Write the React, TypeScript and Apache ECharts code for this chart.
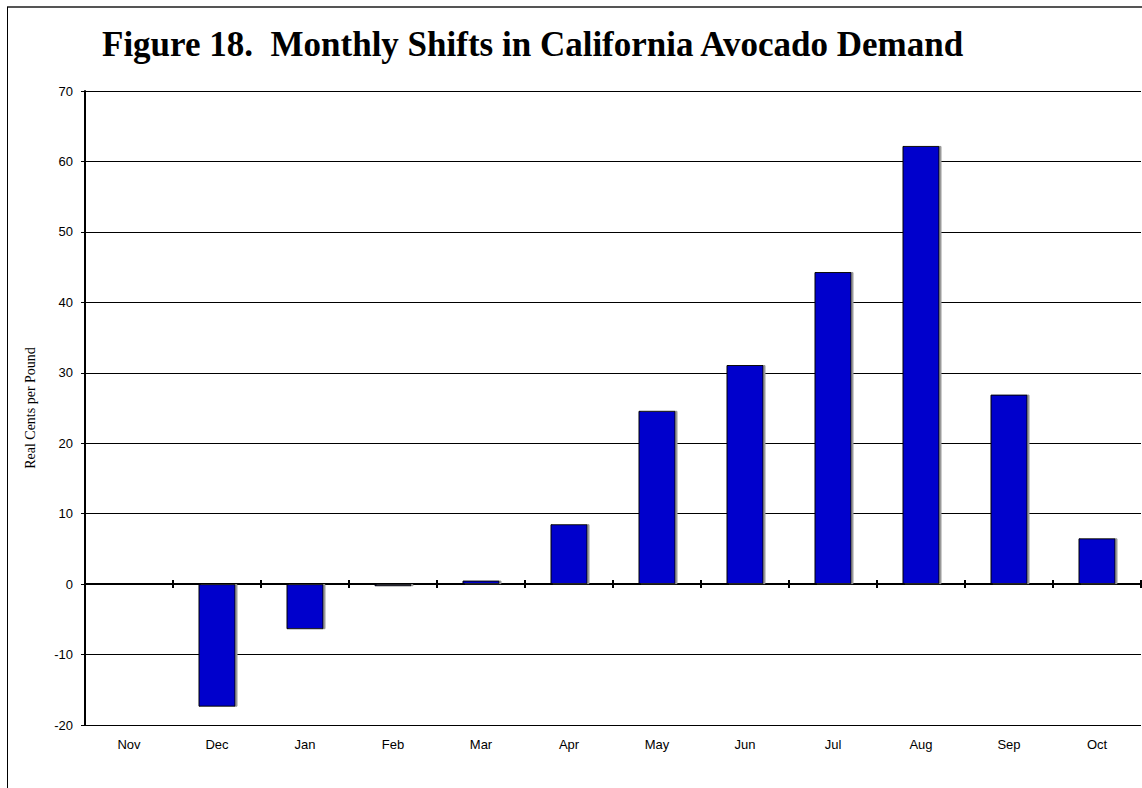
import React, { useEffect, useRef } from "react";
import * as echarts from "echarts";

const months = ["Nov", "Dec", "Jan", "Feb", "Mar", "Apr", "May", "Jun", "Jul", "Aug", "Sep", "Oct"];
const shifts = [0, -17.4, -6.4, -0.3, 0.5, 8.5, 24.6, 31.1, 44.3, 62.2, 26.9, 6.5];
const yTicks = { min: -20, max: 70, interval: 10 };
const titleText = "Figure 18.  Monthly Shifts in California Avocado Demand";
const yName = "Real Cents per Pound";

export default function App() {
  const ref = useRef<HTMLDivElement>(null);
  useEffect(() => {
    const chart = echarts.init(ref.current!, null, { renderer: "svg" });
    chart.setOption({
      animation: false,
      backgroundColor: "#ffffff",
      title: {
        text: titleText,
        left: 97,
        top: 22,
        textStyle: {
          fontFamily: "Liberation Serif",
          fontWeight: "bold",
          fontSize: 35,
          color: "#000",
        },
      },
      graphic: [
        { type: "line", shape: { x1: 7, y1: 7, x2: 1142, y2: 7 }, style: { stroke: "#555", lineWidth: 2 } },
        { type: "line", shape: { x1: 7.5, y1: 7, x2: 7.5, y2: 788 }, style: { stroke: "#000", lineWidth: 1 } },
      ],
      grid: { left: 85, top: 91, right: 1, bottom: 63, containLabel: false, outerBoundsMode: "none" },
      xAxis: [
        {
          type: "category",
          data: months,
          position: "bottom",
          axisLine: { onZero: true, onZeroAxisIndex: 0, lineStyle: { color: "#000", width: 2 } },
          axisTick: { show: true, length: 4, lineStyle: { color: "#000", width: 2 } },
          axisLabel: {
            margin: 13,
            fontFamily: "Liberation Sans",
            fontSize: 13,
            color: "#000",
          },
          splitLine: { show: false },
        },
        {
          type: "category",
          data: months,
          position: "top",
          axisLine: { onZero: true, onZeroAxisIndex: 1, lineStyle: { color: "#000", width: 2 } },
          axisTick: { show: true, length: 4, lineStyle: { color: "#000", width: 2 } },
          axisLabel: { show: false },
          splitLine: { show: false },
        },
      ],
      yAxis: [
        {
          type: "value",
          min: yTicks.min,
          max: yTicks.max,
          interval: yTicks.interval,
          name: yName,
          nameLocation: "middle",
          nameGap: 48,
          nameTextStyle: { fontFamily: "Liberation Serif", fontSize: 14, color: "#000" },
          axisLine: { show: true, lineStyle: { color: "#000", width: 2 } },
          axisTick: { show: true, length: 4, lineStyle: { color: "#000" } },
          axisLabel: { fontFamily: "Liberation Sans", fontSize: 13, color: "#000", margin: 12 },
          splitLine: { show: true, lineStyle: { color: "#000", width: 1 } },
        },
        {
          type: "value",
          position: "right",
          min: yTicks.min,
          max: yTicks.max,
          interval: yTicks.interval,
          axisLine: { show: false },
          axisTick: { show: false },
          axisLabel: { show: false },
          splitLine: { show: false },
        },
      ],
      series: [
        {
          type: "bar",
          data: shifts,
          barWidth: 37,
          itemStyle: {
            color: "#0000CC",
            borderColor: "#000",
            borderWidth: 1,
            shadowColor: "#999",
            shadowOffsetX: 2,
            shadowOffsetY: 0,
            shadowBlur: 0,
          },
        },
      ],
    });
    return () => chart.dispose();
  }, []);
  return <div ref={ref} style={{ position: "fixed", left: 0, top: 0, width: 1142, height: 788 }} />;
}
